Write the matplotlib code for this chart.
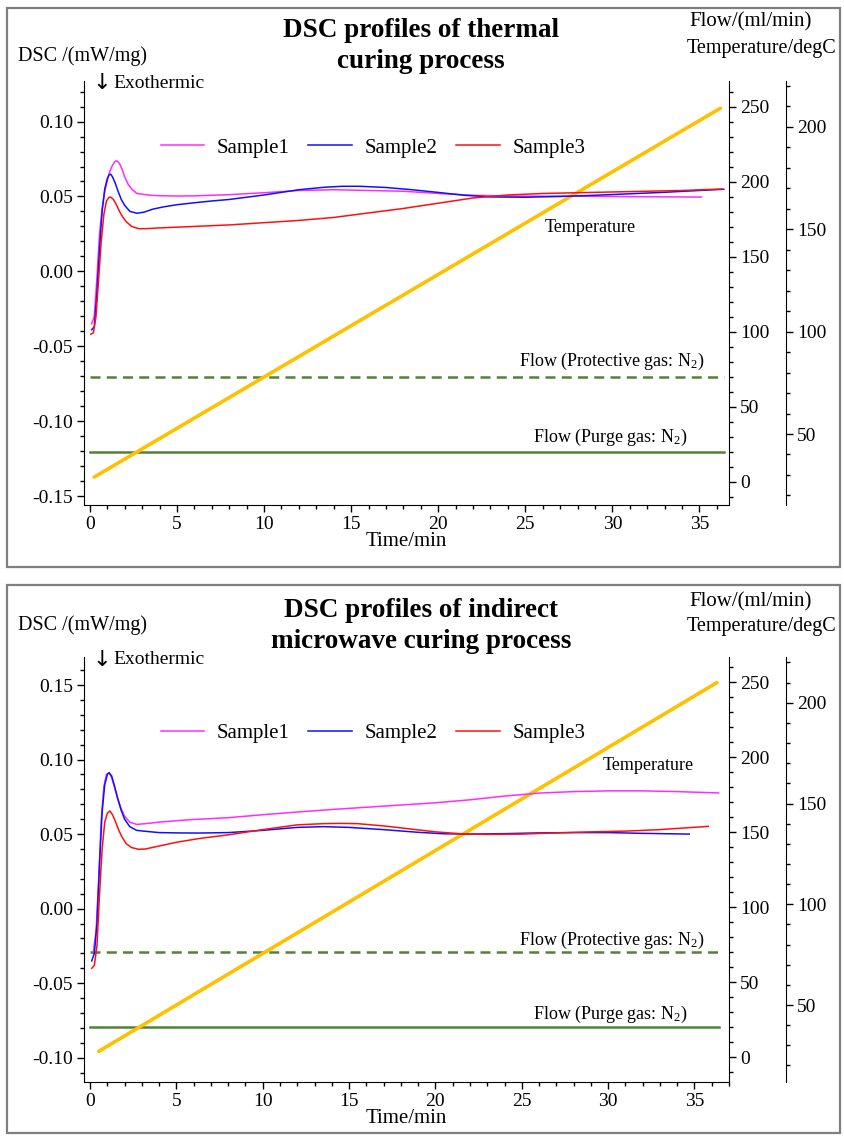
import matplotlib
matplotlib.use("Agg")
import matplotlib.pyplot as plt
from matplotlib.patches import Rectangle
from matplotlib.ticker import MultipleLocator, FuncFormatter

plt.rcParams['font.family'] = ['Liberation Serif', 'DejaVu Serif']
plt.rcParams['mathtext.fontset'] = 'custom'
plt.rcParams['mathtext.rm'] = 'Liberation Serif'
plt.rcParams['mathtext.it'] = 'Liberation Serif:italic'

W, H = 844, 1138

# ── top panel: thermal curing ───────────────────────────
th_t1 = [0.1, 0.25, 0.4, 0.55, 0.7, 0.85, 1.0, 1.15, 1.3, 1.45, 1.55, 1.7, 1.85, 2.0, 2.2, 2.4, 2.7, 3.0,
         3.5, 4.0, 5.0, 6.0, 8.0, 10.0, 12.0, 14.0, 16.0, 18.0, 20.0, 22.0, 24.0, 26.0, 28.0, 30.0, 32.0, 35.1]
th_s1 = [-0.035, -0.030, -0.005, 0.025, 0.042, 0.053, 0.061, 0.067, 0.071, 0.0735, 0.0738, 0.072, 0.068, 0.063,
         0.058, 0.055, 0.052, 0.0515, 0.0508, 0.0505, 0.0503, 0.0504, 0.0512, 0.0525, 0.054, 0.0545, 0.054,
         0.0535, 0.052, 0.0508, 0.0503, 0.0502, 0.0502, 0.0500, 0.0498, 0.0496]

th_t2 = [0.1, 0.25, 0.4, 0.55, 0.7, 0.85, 1.0, 1.1, 1.2, 1.3, 1.45, 1.6, 1.8, 2.0, 2.3, 2.7, 3.1, 3.6, 4.2, 5.0,
         6.0, 7.0, 8.0, 10.0, 12.0, 13.5, 14.5, 15.5, 17.0, 18.5, 20.0, 21.5, 23.0, 25.0, 27.0, 29.0, 31.0, 33.0,
         35.0, 36.4]
th_s2 = [-0.039, -0.037, -0.015, 0.015, 0.040, 0.055, 0.062, 0.0645, 0.0648, 0.063, 0.059, 0.054, 0.048, 0.044,
         0.040, 0.0388, 0.0395, 0.0415, 0.043, 0.0445, 0.0458, 0.047, 0.048, 0.051, 0.0545, 0.0562, 0.0568,
         0.0568, 0.056, 0.0545, 0.0527, 0.0508, 0.0497, 0.0495, 0.050, 0.0508, 0.0518, 0.0528, 0.054, 0.0548]

th_t3 = [0.05, 0.2, 0.35, 0.5, 0.65, 0.8, 0.95, 1.1, 1.2, 1.35, 1.5, 1.7, 1.9, 2.1, 2.4, 2.8, 3.2, 4.0, 5.0,
         6.0, 8.0, 10.0, 12.0, 14.0, 16.0, 18.0, 20.0, 22.0, 24.0, 26.0, 28.0, 30.0, 32.0, 34.0, 36.3]
th_s3 = [-0.042, -0.041, -0.030, -0.005, 0.020, 0.038, 0.047, 0.0495, 0.0495, 0.048, 0.045, 0.040, 0.036,
         0.033, 0.030, 0.0285, 0.0285, 0.029, 0.0295, 0.030, 0.031, 0.0325, 0.034, 0.036, 0.039, 0.042, 0.0455,
         0.049, 0.051, 0.052, 0.0525, 0.053, 0.0535, 0.054, 0.055]

th_temp_t = [0.25, 36.2]
th_temp = [29, 209]
th_flow_t = [0, 36.4]

# ── bottom panel: indirect microwave curing ─────────────
mw_t1 = [0.2, 0.35, 0.5, 0.65, 0.8, 0.95, 1.1, 1.25, 1.4, 1.6, 1.8, 2.0, 2.3, 2.7, 3.2, 4.0, 5.0, 6.0, 8.0,
         10.0, 12.0, 14.0, 16.0, 18.0, 20.0, 22.0, 24.0, 26.0, 28.0, 30.0, 32.0, 34.0, 36.4]
mw_s1 = [-0.028, -0.015, 0.020, 0.060, 0.082, 0.090, 0.091, 0.088, 0.082, 0.074, 0.067, 0.062, 0.058, 0.0565,
         0.057, 0.058, 0.059, 0.0598, 0.061, 0.063, 0.0648, 0.0665, 0.068, 0.0695, 0.071, 0.073, 0.0755,
         0.0775, 0.0785, 0.079, 0.079, 0.0785, 0.0776]

mw_t2 = [0.1, 0.25, 0.4, 0.55, 0.7, 0.85, 1.0, 1.1, 1.25, 1.4, 1.6, 1.8, 2.0, 2.3, 2.7, 3.1, 4.0, 5.0, 6.3,
         8.0, 10.0, 12.0, 13.5, 15.0, 17.0, 19.0, 20.5, 22.0, 24.0, 26.0, 28.0, 30.0, 32.0, 34.7]
mw_s2 = [-0.035, -0.030, -0.010, 0.030, 0.065, 0.083, 0.090, 0.0912, 0.089, 0.083, 0.074, 0.066, 0.060, 0.055,
         0.0525, 0.052, 0.051, 0.0508, 0.0507, 0.051, 0.0525, 0.0545, 0.055, 0.0545, 0.053, 0.0512, 0.0502,
         0.050, 0.0503, 0.0508, 0.051, 0.051, 0.0505, 0.050]

mw_t3 = [0.1, 0.25, 0.4, 0.55, 0.7, 0.85, 1.0, 1.15, 1.3, 1.45, 1.65, 1.85, 2.1, 2.4, 2.8, 3.2, 4.0, 5.0, 6.3,
         8.0, 10.0, 12.0, 13.5, 14.5, 15.5, 17.0, 18.5, 20.0, 21.5, 23.0, 25.0, 27.0, 29.0, 31.0, 33.0, 35.8]
mw_s3 = [-0.040, -0.038, -0.025, 0.010, 0.040, 0.058, 0.064, 0.0655, 0.063, 0.059, 0.053, 0.048, 0.0435,
         0.041, 0.0398, 0.040, 0.042, 0.0445, 0.047, 0.0495, 0.053, 0.0562, 0.057, 0.0572, 0.057, 0.0555,
         0.0535, 0.0515, 0.0502, 0.0498, 0.050, 0.0508, 0.0515, 0.052, 0.053, 0.0552]

mw_temp_t = [0.5, 36.3]
mw_temp = [27, 210]
mw_flow_t = [0, 36.4]

purge_flow = [20, 20]
protect_flow = [70, 70]
sample_names = ['Sample1', 'Sample2', 'Sample3']

C_MAG, C_BLUE, C_RED = '#ff2cff', '#1010ff', '#ff1010'
C_TEMP, C_FLOW = '#ffc000', '#548235'


def dsc_fmt(v, pos):
    s = '%.2f' % v
    return '0.00' if s == '-0.00' else s


def make_panel(fig, top_px, bot_px, xlim, ylim, flim, tlim, curves, temp_t, temp, flow_t,
               title, title_y, lab_y, leg_y, temp_lab, prot_xy, purge_xy):
    ax = fig.add_axes([84 / W, 1 - bot_px / H, (729 - 84) / W, (bot_px - top_px) / H])
    ax2 = ax.twinx()
    ax3 = ax.twinx()
    ax.set_zorder(3)
    ax.patch.set_visible(False)

    for a in (ax, ax2, ax3):
        a.spines['top'].set_visible(False)
        a.tick_params(which='major', direction='out', length=5, width=1, labelsize=14, pad=3)
        a.tick_params(which='minor', direction='out', length=3, width=1)
    ax.spines['right'].set_visible(False)
    for a in (ax2, ax3):
        a.spines['left'].set_visible(False)
        a.spines['bottom'].set_visible(False)
    ax3.spines['right'].set_position(('axes', (786 - 84) / (729 - 84)))

    # DSC curves
    handles = []
    for (t, v), c, name in zip(curves, (C_MAG, C_BLUE, C_RED), sample_names):
        h, = ax.plot(t, v, color=c, lw=1.1, label=name)
        handles.append(h)
    ax.set_xlim(*xlim)
    ax.set_ylim(*ylim)
    ax.xaxis.set_major_locator(MultipleLocator(5))
    ax.xaxis.set_minor_locator(MultipleLocator(1))
    ax.yaxis.set_major_locator(MultipleLocator(0.05))
    ax.yaxis.set_minor_locator(MultipleLocator(0.01))
    ax.yaxis.set_major_formatter(FuncFormatter(dsc_fmt))
    ax.set_xlabel('Time/min', fontsize=15, labelpad=-1)

    # flow lines
    ax2.plot(flow_t, protect_flow, color=C_FLOW, lw=1.8, ls=(0, (4, 2.5)))
    ax2.plot(flow_t, purge_flow, color=C_FLOW, lw=1.8)
    ax2.set_ylim(*flim)
    ax2.yaxis.set_major_locator(MultipleLocator(50))
    ax2.yaxis.set_minor_locator(MultipleLocator(10))
    ax2.text(prot_xy[0], prot_xy[1], 'Flow (Protective gas: N$_2$)', ha='right', va='center', fontsize=13)
    ax2.text(purge_xy[0], purge_xy[1], 'Flow (Purge gas: N$_2$)', ha='right', va='center', fontsize=13)

    # temperature
    ax3.plot(temp_t, temp, color=C_TEMP, lw=2.6, solid_capstyle='round')
    ax3.set_ylim(*tlim)
    ax3.yaxis.set_major_locator(MultipleLocator(50))
    ax3.yaxis.set_minor_locator(MultipleLocator(10))
    ax3.text(temp_lab[0], temp_lab[1], 'Temperature', ha='left', va='center', fontsize=13)

    ax.legend(handles=handles, loc='center', bbox_to_anchor=(373 / W, 1 - leg_y / H),
              bbox_transform=fig.transFigure, ncol=3, frameon=False, fontsize=15,
              handlelength=2.1, handletextpad=0.6, columnspacing=0.9)

    # titles and axis labels
    fig.text(421 / W, 1 - title_y / H, title, ha='center', va='center', fontsize=19.5,
             fontweight='bold', linespacing=1.3)
    fig.text(18 / W, 1 - lab_y[0] / H, 'DSC /(mW/mg)', ha='left', va='center', fontsize=14.5)
    fig.text(92 / W, 1 - lab_y[1] / H, '\u2193', ha='left', va='center', fontsize=16,
             family=['DejaVu Sans'])
    fig.text(113 / W, 1 - lab_y[1] / H, 'Exothermic', ha='left', va='center', fontsize=14)
    fig.text(812 / W, 1 - lab_y[2] / H, 'Flow/(ml/min)', ha='right', va='center', fontsize=15)
    fig.text(836 / W, 1 - lab_y[3] / H, 'Temperature/degC', ha='right', va='center', fontsize=14.5)
    return ax


fig = plt.figure(figsize=(W / 100, H / 100), dpi=100)

# panel frames
for y0, y1 in ((8, 567), (585, 1133)):
    fig.patches.append(Rectangle((7 / W, 1 - y1 / H), (840 - 7) / W, (y1 - y0) / H,
                                 transform=fig.transFigure, fill=False,
                                 edgecolor='#7f7f7f', lw=1.6))

make_panel(fig, 81, 505, (-0.34, 36.7), (-0.156, 0.1271), (-15.5, 267.1), (15.35, 222.3),
           [(th_t1, th_s1), (th_t2, th_s2), (th_t3, th_s3)], th_temp_t, th_temp, th_flow_t,
           'DSC profiles of thermal\ncuring process', 46, (56, 83, 22, 48), 148, (26.1, 151),
           (35.3, 80.5), (34.3, 29.6))

make_panel(fig, 657, 1082, (-0.35, 37.0), (-0.1163, 0.1688), (-16.5, 267.0), (11.8, 222.7),
           [(mw_t1, mw_s1), (mw_t2, mw_s2), (mw_t3, mw_s3)], mw_temp_t, mw_temp, mw_flow_t,
           'DSC profiles of indirect\nmicrowave curing process', 626, (625, 660, 602, 627), 733, (29.7, 169),
           (35.6, 78), (34.6, 28.9))

fig.savefig('out.png', dpi=100)
